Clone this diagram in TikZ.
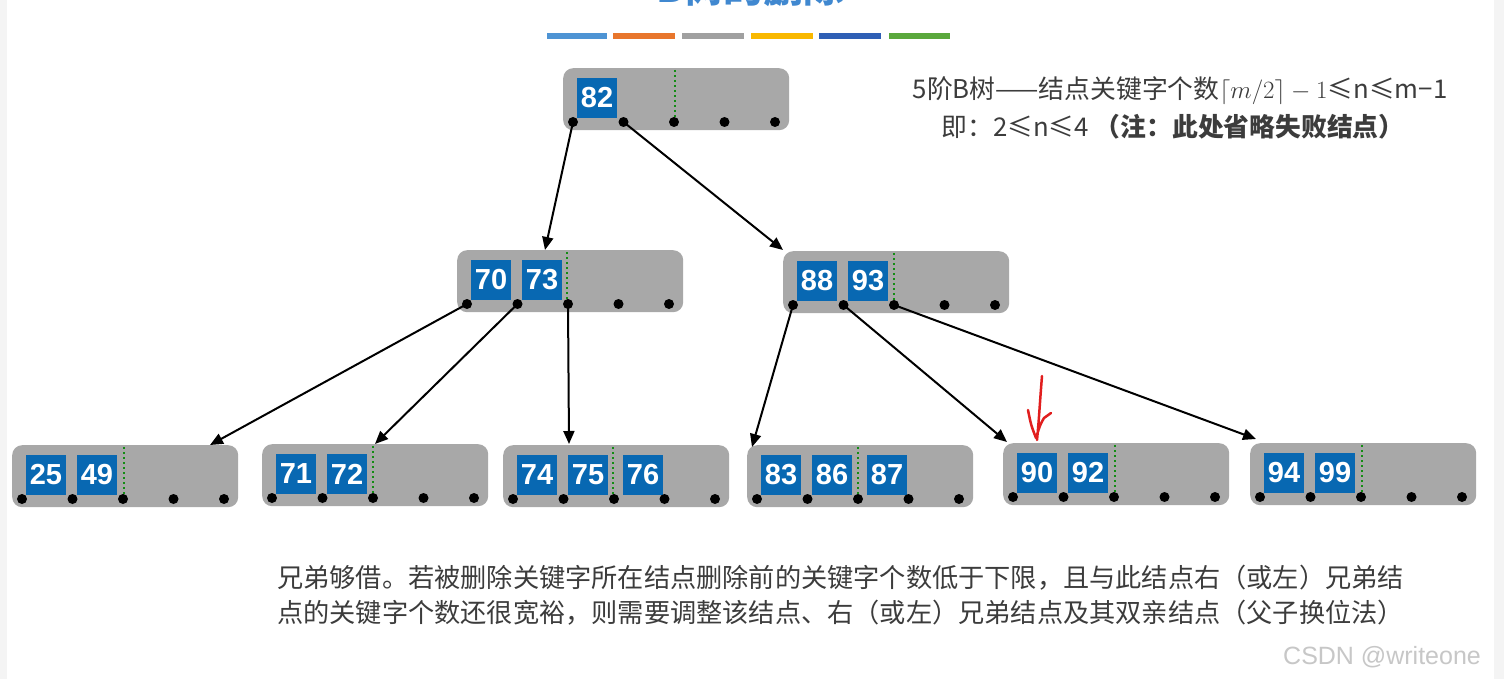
\documentclass[tikz,border=0pt]{standalone}
\usepackage{fontspec}
\setmainfont{Liberation Sans}
\newfontfamily\cjk{Noto Sans CJK SC}
\usetikzlibrary{arrows.meta,calc}
\definecolor{keyblue}{RGB}{8,104,178}
\definecolor{nodegray}{RGB}{168,168,168}
\definecolor{dotgreen}{RGB}{20,140,20}
\definecolor{sidegray}{RGB}{244,244,244}
\definecolor{txtgray}{RGB}{60,60,60}
\definecolor{titleblue}{RGB}{64,136,208}
\definecolor{bar1}{RGB}{78,148,212}
\definecolor{bar2}{RGB}{232,118,44}
\definecolor{bar3}{RGB}{160,160,160}
\definecolor{bar4}{RGB}{249,184,0}
\definecolor{bar5}{RGB}{47,95,181}
\definecolor{bar6}{RGB}{90,168,60}
\definecolor{redpen}{RGB}{225,30,30}
\tikzset{
  bbox/.style={fill=nodegray, rounded corners=10pt, minimum width=226pt, minimum height=62pt, inner sep=0pt, anchor=north west},
  keybox/.style={fill=keyblue, text=white, minimum width=40pt, minimum height=40pt, inner sep=0pt, font=\fontsize{29}{29}\selectfont\bfseries},
  ptr/.style={circle, fill=black, minimum size=10pt, inner sep=0pt},
  arr/.style={line width=2pt, -{Triangle[length=13pt,width=11pt]}},
  dotline/.style={dotgreen, line width=2.4pt, dash pattern=on 2.4pt off 2.6pt},
  body/.style={text=txtgray, font=\cjk\fontsize{26.2}{36}\selectfont, inner sep=0pt},
  rule/.style={text=txtgray, font=\cjk\fontsize{25.8}{36}\selectfont, inner sep=0pt},
}
\newcommand\bnode[5]{%
  \node[bbox] (#1) at (#2,#3) {};
  \draw[dotline] ($(#1.north west)+(#5,2)$) -- ++(0,48);
  \foreach \k [count=\i from 0] in {#4} {
    \pgfmathsetmacro\kx{34+51*\i+4*(\i==2)}
    \node[keybox] (#1-k\i) at ($(#1.north west)+(\kx,30)$) {\k};
  }
  \foreach \j in {0,...,4} {
    \node[ptr] (#1-p\j) at ($(#1.north west)+(10+50.5*\j,54)$) {};
  }
}
\begin{document}
\begin{tikzpicture}[x=1pt,y=-1pt]
\useasboundingbox (0,0) rectangle (1504,679);
\fill[white] (0,0) rectangle (1504,679);
\fill[sidegray] (0,0) rectangle (7,679);
\fill[sidegray] (1494,0) rectangle (1504,679);

% clipped title
\node[text=titleblue, font=\cjk\bfseries\fontsize{40}{40}\selectfont, anchor=base, inner sep=0pt] (title) at (750,3) {B树的删除};

% colour bars
\foreach \c/\a/\b in {bar1/547/607, bar2/613/675, bar3/682/744, bar4/751/813, bar5/819/881, bar6/889/950} {
  \fill[\c] (\a,33) rectangle (\b,39);
}

% nodes
\bnode{r}{563}{68}{82}{112}
\bnode{n1}{457}{250}{70,73}{110}
\bnode{n2}{783}{251}{88,93}{111}
\bnode{l1}{12}{445}{25,49}{112}
\bnode{l2}{262}{444}{71,72}{111}
\bnode{l3}{503}{445}{74,75,76}{110}
\bnode{l4}{747}{445}{83,86,87}{111}
\bnode{l5}{1003}{443}{90,92}{112}
\bnode{l6}{1250}{443}{94,99}{112}

% arrow targets
\coordinate (n1-in) at ($(n1.north west)+(88,0)$);
\coordinate (n2-in) at ($(n2.north west)+(0,-1)$);
\coordinate (l1-in) at ($(l1.north west)+(198,0)$);
\coordinate (l2-in) at ($(l2.north west)+(113,0)$);
\coordinate (l3-in) at ($(l3.north west)+(66,-1)$);
\coordinate (l4-in) at ($(l4.north west)+(5,2)$);
\coordinate (l5-in) at ($(l5.north west)+(4,-1)$);
\coordinate (l6-in) at ($(l6.north west)+(6,-4)$);

\draw[arr] (r-p0.center) -- (n1-in);
\draw[arr] (r-p1.center) -- (n2-in);
\draw[arr] (n1-p0.center) -- (l1-in);
\draw[arr] (n1-p1.center) -- (l2-in);
\draw[arr] (n1-p2.center) -- (l3-in);
\draw[arr] (n2-p0.center) -- (l4-in);
\draw[arr] (n2-p1.center) -- (l5-in);
\draw[arr] (n2-p2.center) -- (l6-in);

% red hand-drawn mark
\draw[redpen, line width=2.5pt, line cap=round, line join=round]
  (1042,376) .. controls (1040,400) and (1039,420) .. (1037,440)
  (1028,410) .. controls (1031,425) .. (1036,438) .. controls (1040,425) .. (1044,418) -- (1051,413);

% right text
\node[rule, anchor=base] (rule1) at (1180,99) {5阶B树——结点关键字个数$\lceil m/2\rceil-1$≤n≤m−1};
\node[rule, anchor=base] (rule2) at (1173,137) {即：2≤n≤4 \bfseries（注：此处省略失败结点）};

% bottom text
\node[body, anchor=base west] (desc1) at (277,587) {兄弟够借。若被删除关键字所在结点删除前的关键字个数低于下限，且与此结点右（或左）兄弟结};
\node[body, anchor=base west] (desc2) at (277,622) {点的关键字个数还很宽裕，则需要调整该结点、右（或左）兄弟结点及其双亲结点（父子换位法）};

% watermark
\node[text=black!22, font=\fontsize{25}{25}\selectfont, anchor=base west, inner sep=0pt] (wm) at (1283,664) {CSDN @writeone};
\end{tikzpicture}
\end{document}
